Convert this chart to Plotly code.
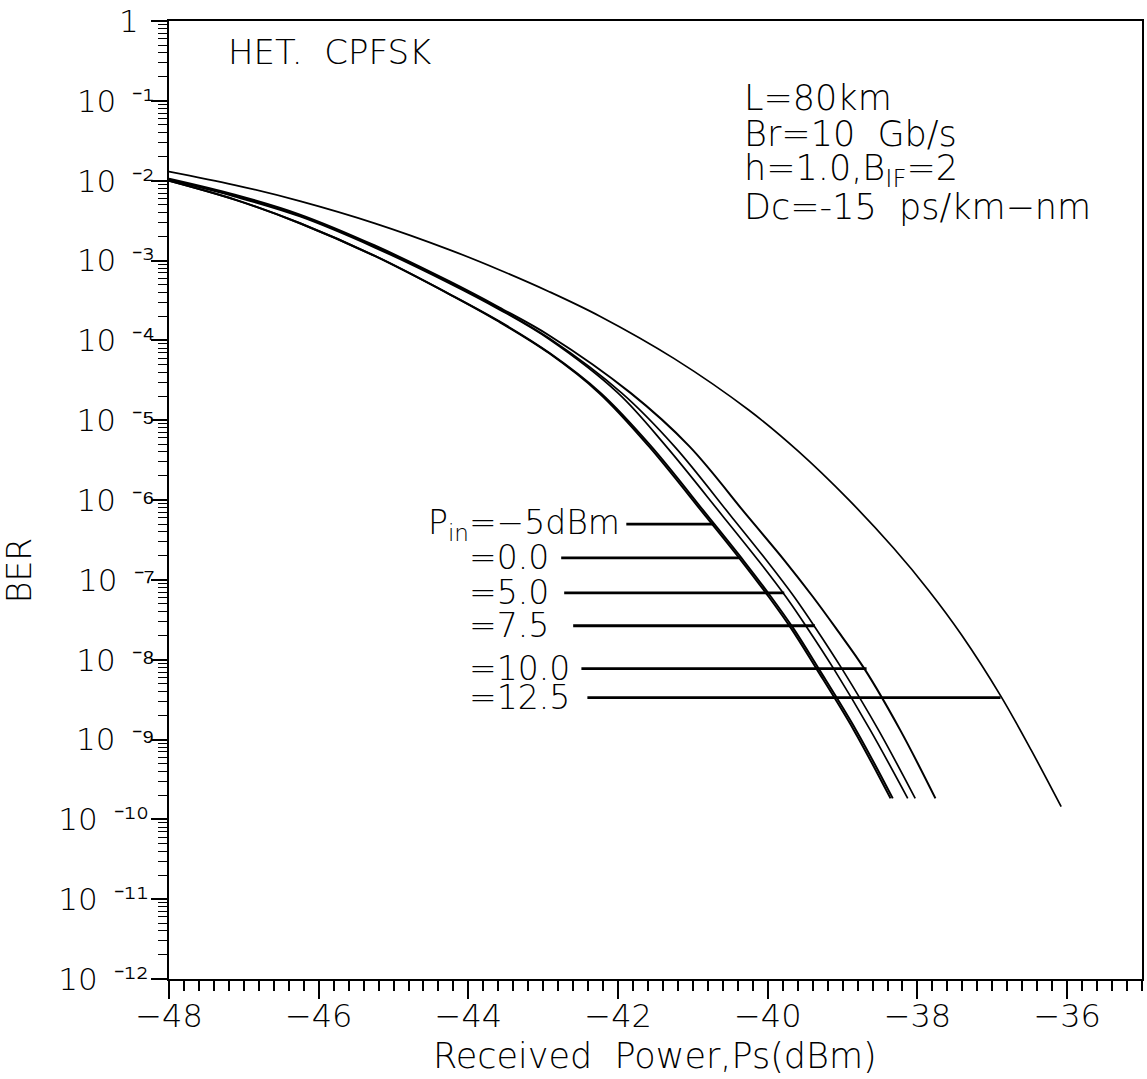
import numpy as np
import plotly.graph_objects as go

# ---------------------------------------------------------------------------
# BER versus received power for heterodyne CPFSK, one curve per launch power
# ---------------------------------------------------------------------------
P_M5 = [-48.0, -47.12, -46.25, -45.25, -44.25, -43.59, -42.92, -42.25, -41.59,
        -40.83, -40.35, -39.99, -39.69, -39.35, -38.85, -38.36]
BER_M5 = [1.0e-2, 5.79e-3, 2.93e-3, 1.14e-3, 3.77e-4, 1.71e-4, 6.88e-5, 2.18e-5, 4.73e-6,
          6.27e-7, 1.72e-7, 6.18e-8, 2.48e-8, 7.72e-9, 1.31e-9, 1.83e-10]

P_0 = [-48.0, -47.12, -46.25, -45.25, -44.25, -43.58, -42.91, -42.23, -41.56,
       -40.80, -40.32, -39.96, -39.66, -39.32, -38.82, -38.33]
BER_0 = [1.0e-2, 5.79e-3, 2.93e-3, 1.14e-3, 3.77e-4, 1.71e-4, 6.88e-5, 2.18e-5, 4.73e-6,
         6.27e-7, 1.72e-7, 6.18e-8, 2.48e-8, 7.72e-9, 1.31e-9, 1.83e-10]

P_5 = [-48.0, -47.12, -46.25, -45.25, -44.25, -43.59, -42.92, -42.0, -41.36,
       -40.60, -40.12, -39.76, -39.47, -39.12, -38.63, -38.13]
BER_5 = [1.03e-2, 6.31e-3, 3.55e-3, 1.45e-3, 5.16e-4, 2.44e-4, 1.03e-4, 2.18e-5, 4.73e-6,
         6.27e-7, 1.72e-7, 6.18e-8, 2.48e-8, 7.72e-9, 1.31e-9, 1.83e-10]

P_7P5 = [-48.0, -47.12, -46.25, -45.25, -44.25, -43.59, -42.92, -41.95, -41.25,
         -40.49, -40.01, -39.65, -39.36, -39.01, -38.52, -38.03]
BER_7P5 = [1.03e-2, 6.49e-3, 3.65e-3, 1.50e-3, 5.31e-4, 2.51e-4, 1.06e-4, 2.18e-5, 4.73e-6,
           6.27e-7, 1.72e-7, 6.18e-8, 2.48e-8, 7.72e-9, 1.31e-9, 1.83e-10]

P_10 = [-48.0, -47.12, -46.25, -45.25, -44.25, -43.59, -42.92, -41.83, -41.05,
        -40.27, -39.77, -39.40, -39.09, -38.71, -38.23, -37.76]
BER_10 = [1.06e-2, 6.68e-3, 3.76e-3, 1.54e-3, 5.46e-4, 2.59e-4, 1.15e-4, 2.18e-5, 4.73e-6,
          6.27e-7, 1.72e-7, 6.18e-8, 2.48e-8, 7.72e-9, 1.31e-9, 1.83e-10]

P_12P5 = [-48.0, -47.12, -46.25, -45.25, -44.25, -43.59, -42.92, -42.25, -41.25,
          -40.25, -39.59, -38.92, -38.32, -37.85, -37.41, -36.89, -36.48, -36.08]
BER_12P5 = [1.30e-2, 8.81e-3, 5.54e-3, 2.92e-3, 1.36e-3, 7.67e-4, 4.07e-4, 2.02e-4, 5.90e-5,
            1.33e-5, 4.06e-6, 1.01e-6, 2.50e-7, 7.37e-8, 2.04e-8, 3.55e-9, 7.35e-10, 1.44e-10]

# Pin labels with their leader lines (leader runs from label to its curve)
PIN_LABELS = ["P<sub>in</sub>=−5dBm", "=0.0", "=5.0", "=7.5", "=10.0", "=12.5"]
LEADER_FROM = [-41.89, -42.76, -42.72, -42.60, -42.49, -42.41]
LEADER_TO = [-40.72, -40.37, -39.78, -39.37, -38.68, -36.89]
LEADER_BER = [5.0e-7, 1.88e-7, 6.88e-8, 2.66e-8, 7.72e-9, 3.35e-9]

# Axis ticks
X_TICKS = [-48, -46, -44, -42, -40, -38, -36]
X_TICK_TEXT = ["−48", "−46", "−44", "−42", "−40", "−38", "−36"]
Y_EXPONENTS = [0, -1, -2, -3, -4, -5, -6, -7, -8, -9, -10, -11, -12]
GAP = "\u00a0\u2009"
Y_TICK_TEXT = ["1" + GAP,
               "10" + GAP + "⁻¹", "10" + GAP + "⁻²", "10" + GAP + "⁻³", "10" + GAP + "⁻⁴",
               "10" + GAP + "⁻⁵", "10" + GAP + "⁻⁶", "10" + GAP + "⁻⁷", "10" + GAP + "⁻⁸",
               "10" + GAP + "⁻⁹", "10" + GAP + "⁻¹⁰\u2009", "10" + GAP + "⁻¹¹\u2009",
               "10" + GAP + "⁻¹²\u2009"]

PARAM_LINES = ["L=80km", "Br=10\u00a0 Gb/s", "h=1.0,B<sub>IF</sub>=2", "Dc=-15\u00a0 ps/km−nm"]

# ---------------------------------------------------------------------------
W, H = 1147, 1079
ML, MR, MT, MB = 169, 3, 19, 100
PW, PH = W - ML - MR, H - MT - MB
FAMILY = "DejaVu Sans, sans-serif"
INK = "black"


def font(size):
    return dict(family=FAMILY, size=size, color=INK, weight=300)


def paper_x(px):
    return (px - ML) / PW


def paper_y(py):
    return (H - MB - py) / PH


fig = go.Figure()

curves = [(P_M5, BER_M5, 2.0), (P_0, BER_0, 2.0), (P_5, BER_5, 1.7),
          (P_7P5, BER_7P5, 1.7), (P_10, BER_10, 2.0), (P_12P5, BER_12P5, 1.7)]
for px_, ber, w in curves:
    fig.add_trace(go.Scatter(x=px_, y=ber, mode="lines",
                             line=dict(color=INK, width=w, shape="spline", smoothing=1.0),
                             showlegend=False, hoverinfo="skip"))

for x0, x1, b in zip(LEADER_FROM, LEADER_TO, LEADER_BER):
    fig.add_trace(go.Scatter(x=[x0, x1], y=[b, b], mode="lines",
                             line=dict(color=INK, width=2.8),
                             showlegend=False, hoverinfo="skip"))

annotations = []
# Pin labels: first one ends at its leader, the rest share a left edge
for i, (lab, x0, b) in enumerate(zip(PIN_LABELS, LEADER_FROM, LEADER_BER)):
    if i == 0:
        annotations.append(dict(x=x0, y=np.log10(b), xref="x", yref="y", text=lab,
                                showarrow=False, xanchor="right", yanchor="middle",
                                xshift=-4, font=font(33)))
    else:
        annotations.append(dict(x=paper_x(468), y=np.log10(b), xref="paper", yref="y",
                                text=lab, showarrow=False, xanchor="left", yanchor="middle",
                                font=font(33)))

annotations.append(dict(x=paper_x(226), y=paper_y(50), xref="paper", yref="paper",
                        text="HET.\u00a0 CPFSK", showarrow=False, xanchor="left",
                        yanchor="middle", font=font(34)))

for i, line in enumerate(PARAM_LINES):
    annotations.append(dict(x=paper_x(743), y=paper_y(96 + 36.5 * i), xref="paper",
                            yref="paper", text=line, showarrow=False, xanchor="left",
                            yanchor="middle", font=font(35)))

annotations.append(dict(x=paper_x(656), y=paper_y(1056), xref="paper", yref="paper",
                        text="Received\u00a0 Power,Ps(dBm)", showarrow=False,
                        xanchor="center", yanchor="middle", font=font(35)))
annotations.append(dict(x=paper_x(20), y=paper_y(570), xref="paper", yref="paper",
                        text="BER", showarrow=False, textangle=-90,
                        xanchor="center", yanchor="middle", font=font(33)))

y_minor = [k * 10.0 ** e for e in range(-12, 0) for k in range(2, 10)]

fig.update_layout(
    width=W, height=H,
    margin=dict(l=ML, r=MR, t=MT, b=MB, pad=0),
    paper_bgcolor="white", plot_bgcolor="white",
    annotations=annotations,
    xaxis=dict(range=[-48, -35], tickmode="array", tickvals=X_TICKS, ticktext=X_TICK_TEXT,
               ticks="outside", ticklen=18, tickwidth=2, tickcolor=INK,
               ticklabelstandoff=-10,
               minor=dict(tickmode="linear", tick0=-48, dtick=0.2, ticks="outside",
                          ticklen=10, tickwidth=1.6, tickcolor=INK, showgrid=False),
               showline=True, linecolor=INK, linewidth=2, mirror=True,
               showgrid=False, zeroline=False, tickfont=font(32)),
    yaxis=dict(type="log", range=[-12, 0], tickmode="array",
               tickvals=[10.0 ** e for e in Y_EXPONENTS], ticktext=Y_TICK_TEXT,
               ticks="outside", ticklen=16, tickwidth=2, tickcolor=INK,
               ticklabelstandoff=-10,
               minor=dict(tickmode="array", tickvals=y_minor, ticks="outside",
                          ticklen=9, tickwidth=1.4, tickcolor=INK, showgrid=False),
               showline=True, linecolor=INK, linewidth=2, mirror=True,
               showgrid=False, zeroline=False, tickfont=font(31)),
)

fig.write_html("out.html")
